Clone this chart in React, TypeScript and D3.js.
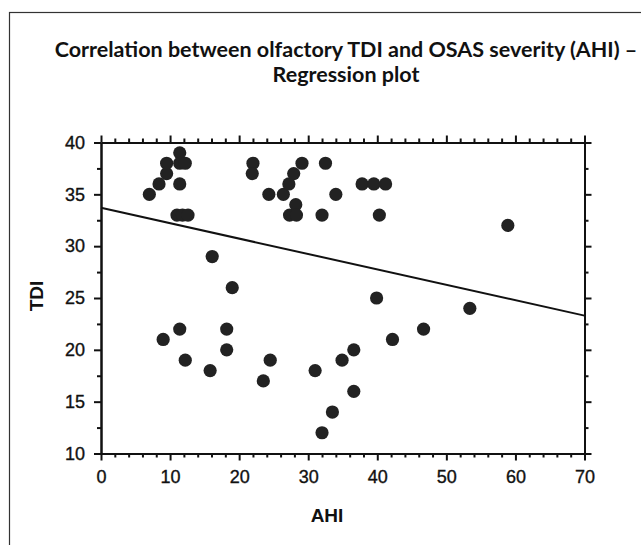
import React, { useEffect, useRef } from "react";
import * as d3 from "d3";

const titleLines = ["Correlation between olfactory TDI and OSAS severity (AHI) –", "Regression plot"];
const xLabel = "AHI";
const yLabel = "TDI";

const xDomain = [0, 70];
const yDomain = [10, 40];
const xMajorTicks = [0, 10, 20, 30, 40, 50, 60, 70];
const xMinorTicks = [2, 4, 6, 8, 12, 14, 16, 18, 22, 24, 26, 28, 32, 34, 36, 38, 42, 44, 46, 48, 52, 54, 56, 58, 62, 64, 66, 68];
const yMajorTicks = [10, 15, 20, 25, 30, 35, 40];
const yMinorTicks = [12.5, 17.5, 22.5, 27.5, 32.5, 37.5];

const ahi = [
  7.0, 8.4, 9.5, 9.5, 11.4, 11.4, 12.2, 11.4, 11.0, 11.8, 12.6, 16.1, 19.0, 22.0, 21.9, 24.3, 26.4,
  27.2, 27.9, 29.1, 28.2, 27.3, 28.3, 32.5, 37.8, 39.5, 41.2, 34.0, 32.0, 40.3, 58.9, 39.9, 53.4,
  9.0, 11.4, 12.2, 15.8, 18.2, 18.2, 24.5, 23.5, 31.0, 33.5, 32.0, 34.9, 36.6, 36.6, 42.2, 46.7,
];
const tdi = [
  35, 36, 37, 38, 39, 38, 38, 36, 33, 33, 33, 29, 26, 38, 37, 35, 35,
  36, 37, 38, 34, 33, 33, 38, 36, 36, 36, 35, 33, 33, 32, 25, 24,
  21, 22, 19, 18, 22, 20, 19, 17, 18, 14, 12, 19, 20, 16, 21, 22,
];

const regressionAhi = [0, 70];
const regressionTdi = [33.7, 23.3];

export default function App() {
  const gRef = useRef<SVGGElement>(null);
  const W = 641, H = 545;
  const x = d3.scaleLinear().domain(xDomain).range([101, 584.5]);
  const y = d3.scaleLinear().domain(yDomain).range([453.5, 142.5]);

  useEffect(() => {
    const g = d3.select(gRef.current);
    g.selectAll("*").remove();
    const styleAxis = (sel: any, labels: boolean) => {
      sel.attr("font-size", 18).attr("font-family", "'Liberation Sans', Arial, sans-serif");
      sel.select(".domain").attr("stroke", "#111").attr("stroke-width", 2);
      sel.selectAll(".tick line").attr("stroke", "#111").attr("stroke-width", 2);
      sel.selectAll(".tick text")
        .attr("fill", "#111")
        .attr("stroke", "#111")
        .attr("stroke-width", 0.35);
      if (!labels) sel.selectAll(".tick text").remove();
    };
    const y0 = y.range()[0], y1 = y.range()[1];
    const x0 = x.range()[0], x1 = x.range()[1];

    // bottom
    g.append("g").attr("transform", `translate(0,${y0})`)
      .call(d3.axisBottom(x).tickValues(xMinorTicks).tickSize(4).tickSizeOuter(0).tickFormat(() => ""))
      .call((s: any) => styleAxis(s, false));
    g.append("g").attr("transform", `translate(0,${y0})`)
      .call(d3.axisBottom(x).tickValues(xMajorTicks).tickSize(7).tickSizeOuter(0).tickPadding(10).tickFormat(d3.format("d")))
      .call((s: any) => styleAxis(s, true));
    // top
    g.append("g").attr("transform", `translate(0,${y1})`)
      .call(d3.axisTop(x).tickValues(xMinorTicks).tickSize(4).tickSizeOuter(0))
      .call((s: any) => styleAxis(s, false));
    g.append("g").attr("transform", `translate(0,${y1})`)
      .call(d3.axisTop(x).tickValues(xMajorTicks).tickSize(7).tickSizeOuter(0))
      .call((s: any) => styleAxis(s, false));
    // left
    g.append("g").attr("transform", `translate(${x0},0)`)
      .call(d3.axisLeft(y).tickValues(yMinorTicks).tickSize(4).tickSizeOuter(0))
      .call((s: any) => styleAxis(s, false));
    g.append("g").attr("transform", `translate(${x0},0)`)
      .call(d3.axisLeft(y).tickValues(yMajorTicks).tickSize(7).tickSizeOuter(0).tickPadding(9).tickFormat(d3.format("d")))
      .call((s: any) => styleAxis(s, true));
    // right
    g.append("g").attr("transform", `translate(${x1},0)`)
      .call(d3.axisRight(y).tickValues(yMinorTicks).tickSize(4).tickSizeOuter(0))
      .call((s: any) => styleAxis(s, false));
    g.append("g").attr("transform", `translate(${x1},0)`)
      .call(d3.axisRight(y).tickValues(yMajorTicks).tickSize(7).tickSizeOuter(0))
      .call((s: any) => styleAxis(s, false));
  }, []);

  const line = d3.line<number>()
    .x((_, i) => x(regressionAhi[i]))
    .y((d) => y(d));

  return (
    <svg width={W} height={H} style={{ position: "absolute", left: 0, top: 0, background: "#fff" }}>
      <rect x={9.5} y={12.5} width={W + 20} height={H + 20} fill="#fff" stroke="#333" strokeWidth={1.2} />
      <g style={{ fontFamily: "Lato, 'Open Sans', sans-serif", fontWeight: 700 }} fill="#111">
        <text x={346} y={57} textAnchor="middle" fontSize={21.5}>{titleLines[0]}</text>
        <text x={346} y={82} textAnchor="middle" fontSize={21.5}>{titleLines[1]}</text>
      </g>
      <g>
        {ahi.map((a, i) => (
          <circle key={i} cx={x(a)} cy={y(tdi[i])} r={6.6} fill="#222" />
        ))}
      </g>
      <path d={line(regressionTdi) || ""} fill="none" stroke="#111" strokeWidth={2} />
      <g ref={gRef} />
      <text x={327} y={522} textAnchor="middle" fontSize={19} fontWeight={700}
        style={{ fontFamily: "'Liberation Sans', Arial, sans-serif" }} fill="#111">{xLabel}</text>
      <text transform={`translate(43,296) rotate(-90)`} textAnchor="middle" fontSize={19} fontWeight={700}
        style={{ fontFamily: "'Liberation Sans', Arial, sans-serif" }} fill="#111">{yLabel}</text>
    </svg>
  );
}
